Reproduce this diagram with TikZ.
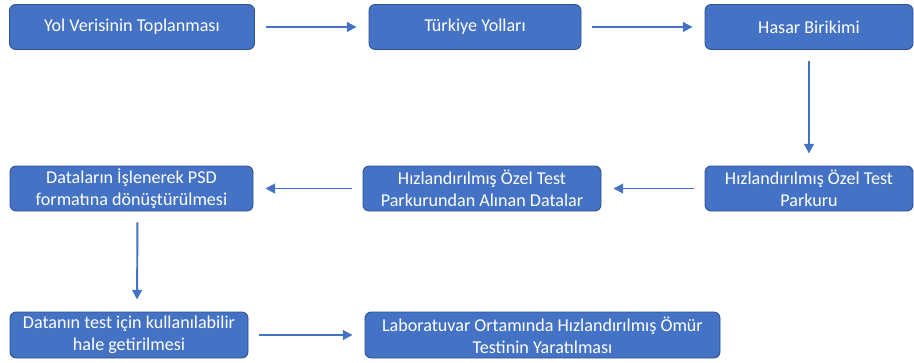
\documentclass[tikz,border=0pt]{standalone}
\usepackage{fontspec}
\setmainfont{Carlito}
\usetikzlibrary{arrows.meta}
\definecolor{boxblue}{HTML}{4472C4}
\definecolor{boxedge}{HTML}{2F528F}
\tikzset{
  stepbox/.style={rectangle, rounded corners=3.5pt, fill=boxblue, draw=boxedge,
    line width=0.5pt, text=white, align=center, minimum height=0.9cm,
    inner sep=1pt, font=\fontsize{10.3}{12.6}\selectfont},
  flow/.style={draw=boxblue, line width=1.1pt, -{Triangle[length=5.5pt,width=5.5pt]},
    shorten <=0.22cm, shorten >=0.24cm}
}
\begin{document}
\begin{tikzpicture}
  \useasboundingbox (0,0) rectangle (18.28,-7.24);
  \node[stepbox, minimum width=4.9cm] (yol) at (2.64,-0.54) {Yol Verisinin Toplanması};
  \node[stepbox, minimum width=4.24cm] (turkiye) at (9.5,-0.54) {Türkiye Yolları};
  \node[stepbox, minimum width=4.16cm] (hasar) at (16.18,-0.54) {Hasar Birikimi};
  \node[stepbox, minimum width=4.16cm] (parkur) at (16.18,-3.77) {Hızlandırılmış Özel Test\\Parkuru};
  \node[stepbox, minimum width=4.76cm] (parkdata) at (9.64,-3.77) {Hızlandırılmış Özel Test\\Parkurundan Alınan Datalar};
  \node[stepbox, minimum width=4.86cm] (psd) at (2.63,-3.77) {Dataların İşlenerek PSD\\formatına dönüştürülmesi};
  \node[stepbox, minimum width=4.76cm, minimum height=0.92cm] (hazir) at (2.58,-6.7) {Datanın test için kullanılabilir\\hale getirilmesi};
  \node[stepbox, minimum width=7.1cm, minimum height=0.92cm] (omur) at (10.85,-6.7) {Laboratuvar Ortamında Hızlandırılmış Ömür\\Testinin Yaratılması};
  \draw[flow] (yol) -- (turkiye);
  \draw[flow] (turkiye) -- (hasar);
  \draw[flow] (hasar) -- (parkur);
  \draw[flow] (parkur) -- (parkdata);
  \draw[flow] (parkdata) -- (psd);
  \draw[flow] ([xshift=0.12cm]psd.south) -- ([xshift=0.16cm]hazir.north);
  \draw[flow] (hazir) -- (omur);
\end{tikzpicture}
\end{document}
